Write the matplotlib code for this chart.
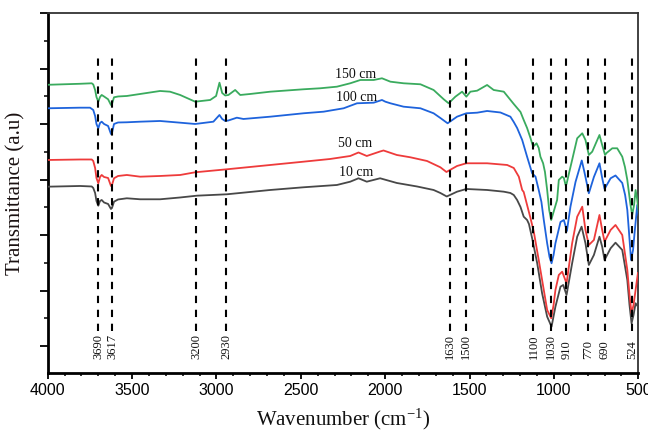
import matplotlib
matplotlib.use("Agg")
import matplotlib.pyplot as plt
from matplotlib.ticker import MultipleLocator, FixedLocator, NullFormatter
import numpy as np

plt.rcParams['mathtext.fontset'] = 'custom'
plt.rcParams['mathtext.rm'] = 'Liberation Serif'
plt.rcParams['mathtext.it'] = 'Liberation Serif:italic'

# ---------------- data (wavenumber cm-1, transmittance a.u.) ----------------
wn_150 = [4000, 3808, 3739, 3730, 3719, 3711, 3700, 3690, 3680, 3666, 3642, 3625, 3619,
          3607, 3583, 3531, 3452, 3334, 3275, 3215, 3126, 3037, 3002, 2982, 2966, 2948,
          2929, 2889, 2859, 2800, 2681, 2484, 2385, 2286, 2207, 2147, 2068, 2019, 1969,
          1891, 1791, 1713, 1653, 1624, 1584, 1544, 1519, 1495, 1455, 1396, 1357, 1297,
          1238, 1198, 1179, 1159, 1139, 1123, 1103, 1090, 1080, 1064, 1053, 1040, 1028,
          1016, 1002, 981, 971, 951, 941, 931, 925, 913, 892, 862, 832, 813, 793, 773,
          743, 730, 714, 697, 688, 654, 625, 595, 579, 565, 546, 536, 525, 516, 506, 498]
t_150 = [288.5, 289.5, 290, 288.8, 283.3, 276.3, 271.6, 276.3, 278.3, 276.8, 274, 268.3, 269.3,
         276, 276.8, 277.3, 279.3, 282.3, 281.6, 278.3, 271.6, 273.3, 277.3, 290.6, 280.3, 277.8,
         278.3, 283.3, 278.3, 279.3, 281.6, 284, 285, 286.6, 290, 293.3, 293.3, 295, 291.6,
         290, 289, 283.3, 274, 270, 276.6, 281.6, 276.6, 281.6, 282.6, 288.3, 283.3, 281.6,
         269.3, 261.3, 253.3, 245.3, 235.3, 226.6, 230, 225.3, 216.6, 210, 201.3, 183.3, 163.3,
         153.3, 161.3, 173.3, 193.3, 196.6, 195.3, 188.3, 189.3, 198.3, 213.3, 235, 240, 233.3,
         218.3, 221.6, 233.3, 238.3, 228.3, 218.3, 220.3, 225, 225, 216.6, 206.3, 193.3, 168.3,
         158.3, 168.3, 183.3, 173.3, 161.3]

wn_100 = [4000, 3808, 3749, 3730, 3719, 3711, 3700, 3690, 3680, 3666, 3642, 3625, 3619,
          3607, 3583, 3531, 3452, 3334, 3215, 3126, 3018, 2982, 2966, 2948, 2929, 2879,
          2840, 2681, 2484, 2365, 2246, 2167, 2068, 2019, 1999, 1969, 1891, 1791, 1713,
          1673, 1630, 1574, 1519, 1455, 1396, 1317, 1258, 1238, 1218, 1188, 1159, 1129,
          1119, 1109, 1090, 1074, 1060, 1040, 1026, 1014, 1002, 991, 961, 941, 923, 902,
          872, 835, 822, 813, 793, 763, 730, 714, 700, 664, 635, 595, 578, 565, 556, 543,
          531, 522, 506, 498]
t_100 = [265, 265.6, 265.6, 263.3, 257.3, 249.3, 245, 250.3, 251.6, 249.3, 247.3, 239.3, 240.3,
         249.3, 250.8, 251, 251.6, 252.3, 250.6, 249.3, 251.6, 258.3, 254.3, 252.3, 252.8, 255.6,
         254.3, 256.6, 260, 261.6, 265, 270, 270.6, 273.3, 271.6, 270, 266.6, 265, 260,
         255.3, 250, 256.6, 260, 260.6, 262.3, 260.8, 256.6, 251.3, 245.3, 233.3, 216.6, 200,
         198.3, 196.6, 183.3, 171.3, 153.3, 130, 116.3, 110, 118.3, 130, 151.3, 153.3, 142.3, 166.6,
         191.3, 212.8, 203.3, 196.3, 180, 196.3, 210, 195.3, 184.3, 195, 197.8, 190.3, 178.3, 163.3,
         143.3, 113.3, 123.3, 140.3, 168.3, 158.3]

wn_50 = [4000, 3808, 3739, 3730, 3719, 3711, 3700, 3690, 3680, 3666, 3642, 3625, 3619,
         3607, 3583, 3531, 3452, 3334, 3275, 3215, 3126, 2938, 2681, 2484, 2326, 2207,
         2158, 2109, 2030, 2010, 1931, 1851, 1752, 1673, 1637, 1574, 1519, 1396, 1277,
         1238, 1208, 1188, 1179, 1159, 1139, 1119, 1090, 1060, 1040, 1016, 1002, 991, 971,
         951, 925, 892, 862, 832, 813, 793, 763, 730, 714, 700, 664, 635, 595, 565, 552,
         540, 528, 516, 502]
t_50 = [213.3, 213.8, 213.8, 212.3, 205.3, 195.3, 190, 196.3, 198.3, 196.3, 195.3, 187.3, 188.3,
        195, 197.3, 198.3, 196.6, 197.3, 197.8, 198.3, 201, 204, 208.3, 211.6, 214.3, 217.3,
        220.8, 217.3, 221.8, 222.8, 218.3, 216, 212.3, 206, 201.3, 207.3, 210, 210, 208.3,
        205.3, 196.6, 183.3, 181.3, 168.3, 155.3, 141.3, 113.3, 83.3, 63.3, 55, 68.3, 83.3, 98.3,
        101.6, 90, 130, 156.6, 166.6, 143.3, 128.3, 133.3, 158.3, 143.3, 131.6, 143.3, 148.3,
        138.3, 103.3, 78.3, 60, 68.3, 83.3, 100.3]

wn_10 = [4000, 3808, 3739, 3730, 3719, 3711, 3700, 3690, 3680, 3666, 3642, 3625, 3619,
         3607, 3583, 3531, 3452, 3334, 3215, 3116, 2938, 2681, 2484, 2286, 2207, 2158,
         2109, 2030, 1931, 1811, 1713, 1673, 1635, 1574, 1519, 1396, 1297, 1258, 1238,
         1218, 1198, 1179, 1159, 1148, 1129, 1099, 1070, 1040, 1014, 991, 961, 945, 925,
         892, 862, 836, 813, 793, 763, 730, 714, 700, 664, 635, 595, 565, 552, 540, 528,
         516, 502]
t_10 = [186.6, 187.3, 186.8, 185.3, 180.3, 172.3, 167.6, 172.3, 173.3, 170.8, 169.3, 164.3, 165.3,
        171.6, 173.8, 175, 174, 174, 175.8, 177.6, 179, 183.3, 186, 188.3, 191.6, 195,
        191.6, 195, 190.3, 186.8, 183.3, 180.3, 176.8, 181.6, 184.3, 183.3, 181.6, 180.3, 178.3,
        173.3, 166.3, 156.6, 153.3, 149.3, 135, 110, 80, 56.6, 46.6, 66.6, 86.6, 88.3, 78.3,
        110, 136.6, 146.6, 130, 108.3, 118.3, 136.6, 126.6, 113.3, 125, 130.6, 123.3, 93.3,
        68.3, 50, 58.3, 70, 66.6]

series_names = ['10 cm', '50 cm', '100 cm', '150 cm']
label_wn = [2171, 2177, 2171, 2174]
label_t = [200.6, 230, 276, 298.3]

# reference band markers (label text, drawn position)
band_labels = ['3690', '3617', '3200', '2930', '1630', '1500', '1100', '1030', '910', '770', '690', '524']
band_pos = [3700, 3619, 3120, 2942, 1617, 1519, 1121, 1016, 927, 797, 700, 536]

xticks = [4000, 3500, 3000, 2500, 2000, 1500, 1000, 500]

# ---------------- figure ----------------
fig = plt.figure(figsize=(6.48, 4.34), dpi=100)
ax = fig.add_axes([0.0736, 0.1399, 0.9114, 0.8295])

colors = {'10 cm': '#484848', '50 cm': '#ee3b3b', '100 cm': '#1e63dc', '150 cm': '#3aab5e'}
for name, wn, t in [('10 cm', wn_10, t_10), ('50 cm', wn_50, t_50),
                    ('100 cm', wn_100, t_100), ('150 cm', wn_150, t_150)]:
    ax.plot(wn, t, color=colors[name], lw=1.3, zorder=3)

for name, x, y in zip(series_names, label_wn, label_t):
    ax.text(x, y, name, ha='center', va='center', fontsize=10,
            family='Liberation Serif', color='#111111', zorder=5)

for lab, x in zip(band_labels, band_pos):
    ax.plot([x, x], [42, 315], color='black', lw=1.5, ls=(0, (3.5, 3.2)), zorder=4)
    ax.text(x, 14.3, lab, rotation=90, ha='center', va='bottom', fontsize=9,
            family='Liberation Serif', color='#111111')

ax.set_xlim(4000, 500)
ax.set_ylim(0, 360)
ax.xaxis.set_major_locator(FixedLocator(xticks))
ax.xaxis.set_minor_locator(MultipleLocator(100))
ax.set_xticklabels([str(v) for v in xticks], family='Liberation Sans', fontsize=11.5)

ymaj = [360 - 55.45 * k for k in range(7)]
ymin_ = [360 - 55.45 * k - 27.725 for k in range(7)]
ax.yaxis.set_major_locator(FixedLocator(ymaj))
ax.yaxis.set_minor_locator(FixedLocator(ymin_))
ax.yaxis.set_major_formatter(NullFormatter())

ax.tick_params(axis='x', which='major', direction='out', length=4, width=1.3, pad=3)
ax.tick_params(axis='x', which='minor', direction='out', length=2.5, width=1.1)
ax.tick_params(axis='y', which='major', direction='out', length=5.5, width=1.3)
ax.tick_params(axis='y', which='minor', direction='out', length=3, width=1.1)

for s in ['left', 'bottom']:
    ax.spines[s].set_linewidth(2.0)
    ax.spines[s].set_color('black')
for s in ['top', 'right']:
    ax.spines[s].set_linewidth(1.3)
    ax.spines[s].set_color('#333333')

ax.set_xlabel(r'Wavenumber (cm$^{\mathregular{-1}}$)', family='Liberation Serif',
              fontsize=15, labelpad=6, color='#111111')
ax.set_ylabel('Transmittance (a.u)', family='Liberation Serif', fontsize=15,
              labelpad=7, color='#1a1111')

fig.savefig('out.png', dpi=100)
